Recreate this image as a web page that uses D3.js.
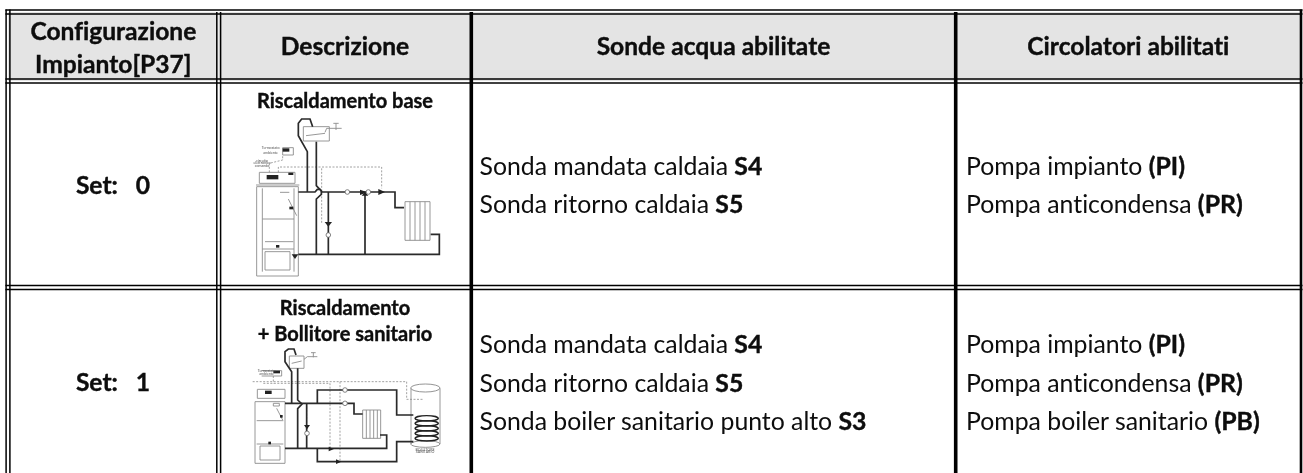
<!DOCTYPE html>
<html><head><meta charset="utf-8">
<script src="https://cdn.jsdelivr.net/npm/d3@7/dist/d3.min.js"></script>
<style>html,body{margin:0;padding:0;background:#fff}svg{display:block}text{font-family:Lato,Carlito,sans-serif;fill:#0a0a0a;font-variant-ligatures:none;font-feature-settings:"liga" 0,"clig" 0,"dlig" 0}.b{font-weight:700;stroke:#0a0a0a;stroke-width:.35px}</style>
</head><body><div id="c"></div>
<script>
const W=1303,H=473;
const columnLabels=[["Configurazione","Impianto[P37]"],["Descrizione"],["Sonde acqua abilitate"],["Circolatori abilitati"]];
const setLabels=["Set:   0","Set:   1"];
const descriptions=[["Riscaldamento base"],["Riscaldamento","+ Bollitore sanitario"]];
const probes=[[["Sonda mandata caldaia ","S4"],["Sonda ritorno caldaia ","S5"]],
 [["Sonda mandata caldaia ","S4"],["Sonda ritorno caldaia ","S5"],["Sonda boiler sanitario punto alto ","S3"]]];
const pumps=[[["Pompa impianto ","(PI)"],["Pompa anticondensa ","(PR)"]],
 [["Pompa impianto ","(PI)"],["Pompa anticondensa ","(PR)"],["Pompa boiler sanitario ","(PB)"]]];
const colEdges=[8,218.7,471.3,955.7,1301];
const rowEdges=[12,81,287.5,480];
const headerFill="#e4e4e4";
// schematic polylines, in schematic units
const s1Pipes=[[[205,291],[255,291],[262,283],[270,283],[276,291],[495,291],[495,338],[522,338]],
 [[232,291],[232,170],[205,122],[205,85],[215,72],[240,72],[248,95]],
 [[259,140],[259,272],[274,288],[274,298],[259,312],[259,478]],
 [[205,478],[628,478],[628,418],[602,418]],[[295,291],[295,478]],[[405,295],[405,478]]];
const s1Thin=[[[220,95],[298,95],[298,138],[220,138],[220,95]],[[228,122],[285,115]],[[285,112],[290,100],[335,100]],[[318,85],[318,105]],[[310,85],[326,85]],
 [[80,275],[205,275],[205,543],[80,543],[80,275]],[[78,270],[208,270]],[[88,232],[195,232],[195,265],[88,265],[88,232]],
 [[97,372],[192,372]],[[97,462],[192,462]],[[105,440],[190,440]],[[97,280],[97,530]],[[192,280],[192,530]],[[175,312],[200,362]],[[150,292],[178,292]],
 [[525,320],[600,320],[600,436],[525,436],[525,320]],[[540,320],[540,436]],[[555,320],[555,436]],[[570,320],[570,436]],[[585,320],[585,436]],
 [[158,158],[190,158],[190,180],[158,180],[158,158]],[[105,470],[180,470],[180,525],[105,525],[105,470]]];
const s1Dash=[[[118,232],[118,205],[158,195],[158,180]],[[145,232],[145,216],[455,216],[455,280]],[[275,220],[275,385]]];
const s1Dark=[[[110,240],[145,240],[145,253],[110,253]],[[158,160],[178,160],[178,170],[158,170]],[[175,233],[190,233],[190,240],[175,240]],
 [[284,381],[306,381],[295,395]],[[390,284],[412,292],[390,300]],[[445,282],[465,291],[445,300]],[[395,302],[415,302],[405,290]],
 [[178,335],[190,335],[190,343],[178,343]],[[138,450],[148,450],[148,458],[138,458]],[[185,478],[205,478],[195,492]]];
const s2Pipes=[[[165,310],[372,310],[372,342],[398,342]],[[262,310],[262,270],[500,270],[500,345],[550,345]],
 [[185,310],[185,215],[165,185],[165,155],[175,147],[192,147],[198,165]],[[203,205],[203,300],[216,312],[203,326],[203,445]],
 [[165,445],[470,445],[470,405],[450,405]],[[262,445],[262,485],[500,485],[500,425],[550,425]],[[230,310],[230,445]]];
const s2Thin=[[[178,168],[222,168],[222,205],[178,205],[178,168]],[[185,190],[215,183]],[[222,178],[232,170],[262,170]],[[250,158],[250,172]],[[243,158],[257,158]],
 [[75,305],[165,305],[165,490],[75,490],[75,305]],[[82,268],[165,268],[165,295],[82,295],[82,268]],[[80,362],[160,362]],[[80,432],[160,432]],
 [[130,310],[148,310],[148,318],[130,318],[130,310]],[[140,325],[158,360]],[[90,438],[150,438],[150,480],[90,480],[90,438]],
 [[398,330],[452,330],[452,415],[398,415],[398,330]],[[409,330],[409,415]],[[420,330],[420,415]],[[431,330],[431,415]],[[442,330],[442,415]],
 [[95,212],[155,212],[155,228],[95,228]],
 [[543,265],[543,432]],[[630,265],[630,432]]];
const s2Dash=[[[68,245],[530,245],[530,298],[580,298]],[[100,250],[300,250],[300,445]],[[330,245],[330,485]],[[130,228],[130,250]],[[230,320],[230,380]]];
const s2Dark=[[[105,272],[125,272],[125,282],[105,282]],[[130,212],[150,212],[150,220],[130,220]],
 [[222,375],[240,375],[231,388]],[[296,440],[312,447],[296,454]],[[318,478],[334,485],[318,492]],[[150,345],[158,345],[158,353],[150,353]],[[115,425],[123,425],[123,433],[115,433]]];
const s2Ellipses=[[586,264,44,12],[586,432,44,10],[590,355,35,8],[590,370,35,8],[590,385,35,8],[590,400,35,8],[590,415,35,8]];
const s1Circles=[[352,291],[415,291],[295,420]];
const s2Circles=[[345,270],[345,310],[231,400]];
const s1Small=[["Termostato",122,162],["ambiente",122,176],["circuito",96,200],["elettronico",96,208],["comando",96,216]];
const s2Small=[["Termostato",110,216],["ambiente",110,226],["BOLLITORE",585,452],["SANITARIO",585,460]];

const svg=d3.select("#c").append("svg").attr("width",W).attr("height",H);
const defs=svg.append("defs");
defs.append("filter").attr("id","soft").append("feGaussianBlur").attr("stdDeviation",0.5);
defs.append("filter").attr("id","softT").append("feGaussianBlur").attr("stdDeviation",0.25);
const x=d3.scaleOrdinal().domain(d3.range(colEdges.length)).range(colEdges);
const y=d3.scaleOrdinal().domain(d3.range(rowEdges.length)).range(rowEdges);
svg.append("g").selectAll("rect").data(columnLabels).join("rect")
 .attr("x",(d,i)=>x(i)).attr("y",y(0)).attr("width",(d,i)=>x(i+1)-x(i)).attr("height",y(1)-y(0)).attr("fill",headerFill);
const rules=svg.append("g").attr("fill","none").attr("stroke","#000");
function dbl(x1,y1,x2,y2,vert){[-1.9,1.9].forEach(o=>{rules.append("line")
 .attr("x1",x1+(vert?o:0)).attr("x2",x2+(vert?o:0)).attr("y1",y1+(vert?0:o)).attr("y2",y2+(vert?0:o)).attr("stroke-width",1.5);});}
rowEdges.slice(0,3).forEach(v=>dbl(x(0)-2.6,v,x(4)+1.5,v,false));
dbl(x(0),y(0)-2.5,x(0),H,true);
dbl(x(1),y(0),x(1),H,true);
[2,3].forEach(i=>rules.append("line").attr("x1",x(i)).attr("x2",x(i)).attr("y1",y(0)).attr("y2",H).attr("stroke-width",3.6));
rules.append("line").attr("x1",x(4)).attr("x2",x(4)).attr("y1",y(0)-2.5).attr("y2",H).attr("stroke-width",2.6);
const T=svg.append("g").attr("filter","url(#softT)");
const hs=24.6;
T.selectAll(null).data([0,1,2,3]).join("text").attr("class","b").attr("text-anchor","middle").attr("font-size",hs)
 .each(function(i){const l=columnLabels[i];
  d3.select(this).selectAll("tspan").data(l).join("tspan").attr("x",(x(i)+x(i+1))/2)
   .attr("y",(d,k)=>l.length>1?40+k*33:55).text(d=>d);});
[0,1].forEach(r=>{const cy=[194,391][r];
 T.append("text").attr("class","b").attr("x",113).attr("y",cy).attr("text-anchor","middle").attr("font-size",hs).style("white-space","pre").text(setLabels[r]);
 descriptions[r].forEach((d,k)=>T.append("text").attr("class","b").attr("x",345).attr("y",[108,315][r]+k*25.5).attr("text-anchor","middle").attr("font-size",20).text(d));
});
function rich(list,left,tops){list.forEach((row,r)=>row.forEach((seg,k)=>{
 const t=T.append("text").attr("x",left).attr("y",tops[r][k]).attr("font-size",24.8).style("white-space","pre");
 t.append("tspan").text(seg[0]); t.append("tspan").attr("class","b").text(seg[1]);}));}
const rowBaselines=[[175,213],[353,392,430]];
rich(probes,479.5,rowBaselines); rich(pumps,966,rowBaselines);
function schematic(ox,oy,pipes,thin,dash,dark,ell,circ,small){
 const sx=d3.scaleLinear().domain([0,660]).range([ox,ox+220]);
 const sy=d3.scaleLinear().domain([0,510]).range([oy,oy+170]);
 const line=d3.line().x(d=>sx(d[0])).y(d=>sy(d[1]));
 const g=svg.append("g").attr("fill","none").attr("filter","url(#soft)");
 g.selectAll(".t").data(thin).join("path").attr("d",line).attr("stroke","#8c8c8c").attr("stroke-width",0.9);
 g.selectAll(".d").data(dash).join("path").attr("d",line).attr("stroke","#8a8a8a").attr("stroke-width",0.8).attr("stroke-dasharray","2 1.5");
 ell.forEach(e=>g.append("ellipse").attr("cx",sx(e[0])).attr("cy",sy(e[1])).attr("rx",e[2]/3).attr("ry",e[3]/3).attr("stroke",e[1]>340&&e[1]<420?"#222":"#888").attr("stroke-width",e[1]>340&&e[1]<420?1.4:0.9));
 g.selectAll(".p").data(pipes).join("path").attr("d",line).attr("stroke","#2a2a2a").attr("stroke-width",1.7);
 g.selectAll(".k").data(dark).join("path").attr("d",d=>line(d)+"Z").attr("fill","#222");
 g.selectAll("circle").data(circ).join("circle").attr("cx",d=>sx(d[0])).attr("cy",d=>sy(d[1])).attr("r",2.3).attr("fill","#fff").attr("stroke","#666").attr("stroke-width",0.8);
 g.selectAll("text").data(small).join("text").attr("x",d=>sx(d[1])).attr("y",d=>sy(d[2])).attr("text-anchor","middle").attr("font-size",3.6).style("fill","#555").text(d=>d[0]);
}
schematic(230,95,s1Pipes,s1Thin,s1Dash,s1Dark,[],s1Circles,s1Small);
schematic(230,300,s2Pipes,s2Thin,s2Dash,s2Dark,s2Ellipses,s2Circles,s2Small);
</script></body></html>
